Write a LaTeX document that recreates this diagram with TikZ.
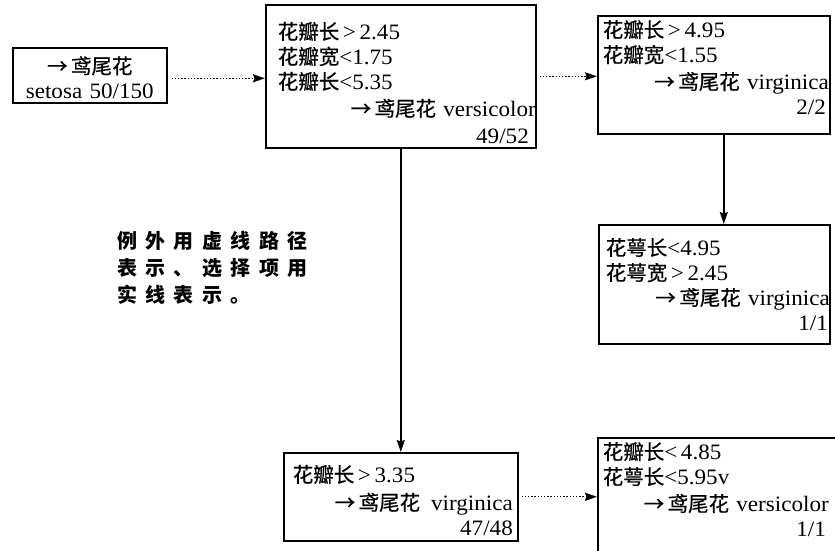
\documentclass[tikz,border=0pt]{standalone}
\usepackage{fontspec}
\setmainfont{Liberation Serif}[FakeStretch=1.05]
\newfontfamily\cjk{Noto Sans CJK SC}[FakeBold=0.6]
\newfontfamily\notefont{Noto Sans CJK SC}[LetterSpace=42]
\usetikzlibrary{arrows.meta,calc}
\newcommand{\zh}[1]{{\cjk\fontsize{20.5}{25}\selectfont #1}}
\newcommand{\topgap}[1]{\rule{0pt}{#1}}
\newcommand{\botgap}[1]{\rule[-#1]{0pt}{0pt}}
\begin{document}
\begin{tikzpicture}[x=1pt,y=-1pt,
  box/.style={draw, line width=1.6pt, inner sep=0pt, anchor=north west, align=left,
    font=\fontsize{22}{25}\selectfont},
  solidarrow/.style={line width=1.6pt, -{Stealth[length=12pt,width=8pt,inset=1.5pt]}},
  dotarrow/.style={line width=1.3pt, dash pattern=on 1.3pt off 1.9pt,
    -{Stealth[length=12pt,width=8pt,inset=1.5pt]}},
  notestyle/.style={inner sep=0pt, anchor=north west, align=left,
    font=\notefont\bfseries\fontsize{20}{27}\selectfont}]
\useasboundingbox (0,0) rectangle (835,551);
\clip (0,0) rectangle (835,551);

\node[box, align=center, minimum width=154, minimum height=55, text width=140] (A) at (12,47)
  {\topgap{22pt}\zh{→\,鸢尾花}\\setosa 50/150};

\node[box, minimum width=270, minimum height=143, text width=246] (B) at (265,4)
  {\topgap{30pt}\zh{花瓣长}\,>\,2.45\\
   \zh{花瓣宽}<1.75\\
   \zh{花瓣长}<5.35\\[2pt]
   \hspace*{\fill}\zh{→\,鸢尾花} versicolor\kern-12pt\\[2pt]
   \hspace*{\fill}49/52\kern-5pt};

\node[box, minimum width=232, minimum height=118, text width=222] (C) at (597,15)
  {\zh{花瓣长}\,>\,4.95\\
   \zh{花瓣宽}<1.55\\[2pt]
   \hspace*{\fill}\zh{→\,鸢尾花} virginica\kern-4pt\\
   \hspace*{\fill}2/2\kern-1pt\botgap{15pt}};

\node[box, minimum width=231, minimum height=119, text width=217] (D) at (598,224)
  {\zh{花萼长}<4.95\\
   \zh{花萼宽}\,>\,2.45\\
   \hspace*{\fill}\zh{→\,鸢尾花} virginica\kern-7pt\\
   \hspace*{\fill}1/1\kern-5pt};

\node[box, minimum width=234, minimum height=88, text width=216] (E) at (283,452)
  {\topgap{24pt}\zh{花瓣长}\,>\,3.35\\[3pt]
   \hspace*{\fill}\zh{→\,鸢尾花}\enspace virginica\kern-4pt\\
   \hspace*{\fill}47/48\kern-4pt};

\node[box, minimum width=243, minimum height=118, text width=233] (F) at (597,437)
  {\zh{花瓣长}<\,4.85\\
   \zh{花萼长}<5.95v\\[2pt]
   \hspace*{\fill}\zh{→\,鸢尾花} versicolor\kern7pt\\
   \hspace*{\fill}1/1\kern10pt\botgap{15pt}};

\node[notestyle] (note) at (117,231)
  {例外用虚线路径\\表示、选择项用\\实线表示。};

\coordinate (a1) at ($(A.east)+(0,3)$);
\draw[dotarrow, shorten <=4pt] (a1) -- (a1 -| B.west);
\draw[dotarrow, shorten <=3pt] (B.east) -- (B.east -| C.west);
\draw[solidarrow] (B.south) -- (E.north);
\coordinate (c1) at ($(C.south)+(10,0)$);
\draw[solidarrow] (c1) -- (c1 |- D.north);
\draw[dotarrow, shorten <=3pt] (E.east) -- (E.east -| F.west);
\end{tikzpicture}
\end{document}
